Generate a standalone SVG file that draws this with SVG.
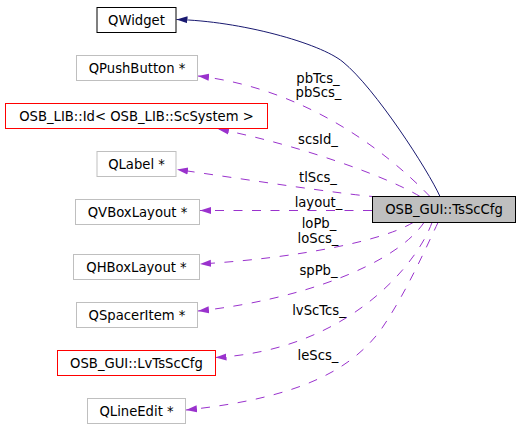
<svg xmlns="http://www.w3.org/2000/svg" width="520" height="439" viewBox="0 0 520 439">
<style>
  text { font-family: "DejaVu Sans", "Liberation Sans", sans-serif; font-size: 13.2px; fill: #000; text-anchor: middle; }
  .box { fill: #ffffff; stroke-width: 1; }
  .gray { stroke: #bfbfbf; }
  .red { stroke: #ff0000; }
  .black { stroke: #000000; }
  .main { fill: #bfbfbf; stroke: #000000; stroke-width: 1; }
  .use { fill: none; stroke: #9a32cd; stroke-width: 1; stroke-dasharray: 9,9.5; marker-end: url(#ap); }
  .inh { fill: none; stroke: #191970; stroke-width: 1; marker-end: url(#an); }
</style>
<defs>
  <marker id="ap" markerUnits="userSpaceOnUse" markerWidth="12" markerHeight="9" refX="11" refY="4" orient="auto">
    <path d="M0,0.5 L11,4 L0,7.5 z" fill="#9a32cd" stroke="none"/>
  </marker>
  <marker id="an" markerUnits="userSpaceOnUse" markerWidth="12" markerHeight="9" refX="11" refY="4" orient="auto">
    <path d="M0,0.5 L11,4 L0,7.5 z" fill="#191970" stroke="none"/>
  </marker>
</defs>
<rect width="520" height="439" fill="#ffffff"/>

<g id="connectors">
  <path class="inh" d="M440,196.5 C428,170 375,88 343,62 C320,43 240,21 176.5,19.5"/>
  <path class="use" d="M430,196.5 C380,145 300,88 198,76"/>
  <path class="use" d="M420,196.5 C390,178 300,145 218,129"/>
  <path class="use" d="M378,197 C340,194 250,180 177,169.5"/>
  <path class="use" d="M372,210.5 L200,210.5"/>
  <path class="use" d="M413,222.5 C385,240 300,258 200,264"/>
  <path class="use" d="M424,222.5 C395,265 300,300 198,311"/>
  <path class="use" d="M432,222.5 C418,262 350,350 215.5,357.5"/>
  <path class="use" d="M438,222.5 C425,250 405,295 380,331 C350,370 300,398 186,410"/>
</g>

<g id="edge-labels">
  <text x="318" y="82.5">pbTcs_</text>
  <text x="318.5" y="96.5">pbScs_</text>
  <text x="318" y="144">scsId_</text>
  <text x="318" y="182">tlScs_</text>
  <text x="318.5" y="206.5">layout_</text>
  <text x="319" y="227.5">loPb_</text>
  <text x="318" y="242.5">loScs_</text>
  <text x="318.5" y="275">spPb_</text>
  <text x="319" y="315">lvScTcs_</text>
  <text x="318" y="360">leScs_</text>
</g>

<g id="node-QWidget">
  <rect class="box black" x="97" y="7.5" width="79" height="25"/>
  <text x="136.5" y="24.5">QWidget</text>
</g>
<g id="node-QPushButton">
  <rect class="box gray" x="76.5" y="55.5" width="121" height="25"/>
  <text x="137" y="72.5">QPushButton *</text>
</g>
<g id="node-Id">
  <rect class="box red" x="5.5" y="103.5" width="262" height="25"/>
  <text x="136.5" y="120.5">OSB_LIB::Id&lt; OSB_LIB::ScSystem &gt;</text>
</g>
<g id="node-QLabel">
  <rect class="box gray" x="97" y="151.5" width="79" height="25"/>
  <text x="136.5" y="168.5">QLabel *</text>
</g>
<g id="node-QVBoxLayout">
  <rect class="box gray" x="75.5" y="199.5" width="124" height="25"/>
  <text x="137.5" y="216.5">QVBoxLayout *</text>
</g>
<g id="node-QHBoxLayout">
  <rect class="box gray" x="73.5" y="254.5" width="126" height="25"/>
  <text x="136.5" y="271.5">QHBoxLayout *</text>
</g>
<g id="node-QSpacerItem">
  <rect class="box gray" x="76.5" y="302.5" width="121" height="25"/>
  <text x="137" y="319.5">QSpacerItem *</text>
</g>
<g id="node-LvTsScCfg">
  <rect class="box red" x="57.5" y="350.5" width="158" height="25"/>
  <text x="136.5" y="367.5">OSB_GUI::LvTsScCfg</text>
</g>
<g id="node-QLineEdit">
  <rect class="box gray" x="87.5" y="398.5" width="98" height="25"/>
  <text x="136.5" y="415.5">QLineEdit *</text>
</g>
<g id="node-TsScCfg">
  <rect class="main" x="372.5" y="196.5" width="143" height="26"/>
  <text x="444" y="214">OSB_GUI::TsScCfg</text>
</g>
</svg>
